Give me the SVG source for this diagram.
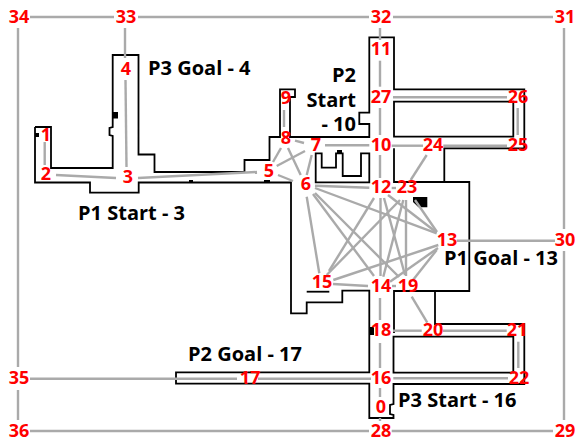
<svg xmlns="http://www.w3.org/2000/svg" width="576" height="441" viewBox="0 0 576 441">
<style>
.w{fill:none;stroke:#000;stroke-width:1.8;stroke-linejoin:miter}
.b{fill:#000;stroke:none}
#edges line{stroke:#aaa;stroke-width:2.400}
.n{font-family:"Open Sans","DejaVu Sans",sans-serif;font-weight:700;font-size:18px;fill:#f00;text-anchor:middle}
.l{font-family:"Open Sans","DejaVu Sans",sans-serif;font-weight:700;font-size:20px;fill:#000}
</style>
<rect width="576" height="441" fill="#fff"/>
<g id="map">
<path class="w" d="M35,127H51V168H112.7V136L109.5,135V128L112.7,127V55H138.5V154.5H154.5V172H244.500V160H269.5V137H280V89.3H295V97H290V137H369.3V124H359.3V112.7H369.3V37.3H394V89.3H524.3V148.300H444.3V182H394V148.300M394,101.700H513.3V136.700H394ZM35,127V182.5H90V192.7H138.7V182.5H291V313.3H306.7V302.3H342.3V290.7H369.3V372.3H176V383.7H369.3V418H393.5V415L390,414V405L393.5,404V384H524.3V324H435V291H394V333M444.3,182H469.3V291H435M393.5,336.7H513.3V372.7H393.5Z"/>
<path class="w" d="M315.7,153.3H321.7V167.7H336V153.3H342.7V176H361V153.3H369.3V182.3H315.7Z"/>
<path class="w" d="M306.7,291.7H329.3"/>
<path class="b" d="M413,197H427.3V207.3H418.5L413,202Z"/>
<path class="b" d="M113,112H118V118.500H113ZM35,133H39V137H35ZM189,180H193V182H189ZM264,180H270V182H264ZM337,150H342V153H337ZM370,327H374V335H370Z"/>
</g>
<g id="edges">
<line x1="44.700" y1="142" x2="44.700" y2="165"/>
<line x1="56" y1="175" x2="116" y2="178"/>
<line x1="125.500" y1="80" x2="126.500" y2="167"/>
<line x1="138" y1="178" x2="257" y2="172"/>
<line x1="125" y1="28" x2="125" y2="58"/>
<line x1="273" y1="162" x2="281" y2="148"/>
<line x1="276.700" y1="166" x2="305" y2="151"/>
<line x1="278" y1="175" x2="293" y2="181"/>
<line x1="288" y1="148" x2="300.700" y2="175"/>
<line x1="311.700" y1="155" x2="306.700" y2="175"/>
<line x1="295" y1="140.700" x2="304" y2="143"/>
<line x1="284" y1="110" x2="284" y2="127"/>
<line x1="325" y1="145.300" x2="369.300" y2="145.300"/>
<line x1="380" y1="28" x2="380" y2="40"/>
<line x1="380" y1="60.700" x2="380" y2="86.700"/>
<line x1="380" y1="108" x2="380" y2="135"/>
<line x1="380" y1="155" x2="380" y2="178"/>
<line x1="391.700" y1="145.700" x2="423" y2="145.700"/>
<line x1="426.700" y1="155" x2="410.700" y2="180"/>
<line x1="443.300" y1="145.700" x2="507" y2="145.700"/>
<line x1="517.700" y1="108" x2="517.700" y2="135"/>
<line x1="393" y1="97.300" x2="507" y2="97.300"/>
<line x1="315" y1="185.700" x2="369.300" y2="187.700"/>
<line x1="391.700" y1="188" x2="396" y2="188"/>
<line x1="315" y1="188" x2="436.700" y2="233.300"/>
<line x1="306.700" y1="196.700" x2="319.300" y2="273.300"/>
<line x1="313" y1="194" x2="374" y2="276"/>
<line x1="315" y1="193" x2="399" y2="277"/>
<line x1="374" y1="198" x2="329" y2="271"/>
<line x1="380.500" y1="198" x2="380.500" y2="276"/>
<line x1="384" y1="198" x2="405" y2="275"/>
<line x1="400" y1="200" x2="326.700" y2="275"/>
<line x1="403.300" y1="200" x2="383.300" y2="276.700"/>
<line x1="406" y1="200" x2="406" y2="276"/>
<line x1="415" y1="200" x2="437" y2="232"/>
<line x1="388" y1="195" x2="436" y2="232"/>
<line x1="438.300" y1="245" x2="333.300" y2="280"/>
<line x1="438" y1="248" x2="390" y2="281.700"/>
<line x1="436.700" y1="250" x2="413" y2="280"/>
<line x1="456.700" y1="240.700" x2="555" y2="240.700"/>
<line x1="333" y1="284" x2="368" y2="286"/>
<line x1="392" y1="286" x2="396" y2="286"/>
<line x1="380" y1="298" x2="380" y2="320"/>
<line x1="380" y1="343" x2="380" y2="368"/>
<line x1="393" y1="330.700" x2="421.700" y2="330.700"/>
<line x1="411.700" y1="296.700" x2="427.300" y2="322.700"/>
<line x1="443" y1="330.700" x2="506.700" y2="330.700"/>
<line x1="518.300" y1="341.700" x2="518.300" y2="368"/>
<line x1="393.300" y1="378.300" x2="508" y2="378.300"/>
<line x1="258" y1="378.700" x2="371" y2="378.700"/>
<line x1="30" y1="378.700" x2="237" y2="378.700"/>
<line x1="380" y1="388" x2="380" y2="397"/>
<line x1="380" y1="418" x2="380" y2="421"/>
<line x1="391.700" y1="431" x2="553" y2="431"/>
<line x1="30" y1="431" x2="369" y2="431"/>
<line x1="564" y1="251" x2="564" y2="420"/>
<line x1="564" y1="28" x2="564" y2="229"/>
<line x1="393" y1="17" x2="553" y2="17"/>
<line x1="138" y1="17" x2="369" y2="17"/>
<line x1="30" y1="17" x2="114" y2="17"/>
<line x1="18" y1="28" x2="18" y2="367"/>
<line x1="18" y1="390" x2="18" y2="420"/>
</g>
<g id="n0"><text class="n" x="381" y="413">0</text></g>
<g id="n1"><text class="n" x="46" y="141">1</text></g>
<g id="n2"><text class="n" x="46" y="180">2</text></g>
<g id="n3"><text class="n" x="128" y="183">3</text></g>
<g id="n4"><text class="n" x="126" y="75">4</text></g>
<g id="n5"><text class="n" x="269" y="177">5</text></g>
<g id="n6"><text class="n" x="306" y="190">6</text></g>
<g id="n7"><text class="n" x="316" y="151">7</text></g>
<g id="n8"><text class="n" x="286" y="144">8</text></g>
<g id="n9"><text class="n" x="286" y="104">9</text></g>
<g id="n10"><text class="n" x="381" y="151">10</text></g>
<g id="n11"><text class="n" x="381" y="55">11</text></g>
<g id="n12"><text class="n" x="381" y="193">12</text></g>
<g id="n13"><text class="n" x="447" y="246">13</text></g>
<g id="n14"><text class="n" x="381" y="292">14</text></g>
<g id="n15"><text class="n" x="322" y="288">15</text></g>
<g id="n16"><text class="n" x="381" y="384">16</text></g>
<g id="n17"><text class="n" x="250" y="384">17</text></g>
<g id="n18"><text class="n" x="381" y="336">18</text></g>
<g id="n19"><text class="n" x="408" y="292">19</text></g>
<g id="n20"><text class="n" x="433" y="336">20</text></g>
<g id="n21"><text class="n" x="517" y="336">21</text></g>
<g id="n22"><text class="n" x="519" y="384">22</text></g>
<g id="n23"><text class="n" x="407" y="193">23</text></g>
<g id="n24"><text class="n" x="433" y="151">24</text></g>
<g id="n25"><text class="n" x="518" y="151">25</text></g>
<g id="n26"><text class="n" x="518" y="103">26</text></g>
<g id="n27"><text class="n" x="381" y="103">27</text></g>
<g id="n28"><text class="n" x="381" y="437">28</text></g>
<g id="n29"><text class="n" x="565" y="437">29</text></g>
<g id="n30"><text class="n" x="565" y="246">30</text></g>
<g id="n31"><text class="n" x="565" y="23">31</text></g>
<g id="n32"><text class="n" x="381" y="23">32</text></g>
<g id="n33"><text class="n" x="126" y="23">33</text></g>
<g id="n34"><text class="n" x="19" y="23">34</text></g>
<g id="n35"><text class="n" x="19" y="384">35</text></g>
<g id="n36"><text class="n" x="19" y="437">36</text></g>
<g id="labels">
<text class="l" x="148" y="75">P3 Goal - 4</text>
<text class="l" x="78" y="220">P1 Start - 3</text>
<text class="l" x="356" y="82" text-anchor="end">P2</text>
<text class="l" x="356" y="107" text-anchor="end">Start</text>
<text class="l" x="356" y="131" text-anchor="end">- 10</text>
<text class="l" x="444" y="265">P1 Goal - 13</text>
<text class="l" x="188" y="361">P2 Goal - 17</text>
<text class="l" x="398" y="407">P3 Start - 16</text>
</g>
</svg>
